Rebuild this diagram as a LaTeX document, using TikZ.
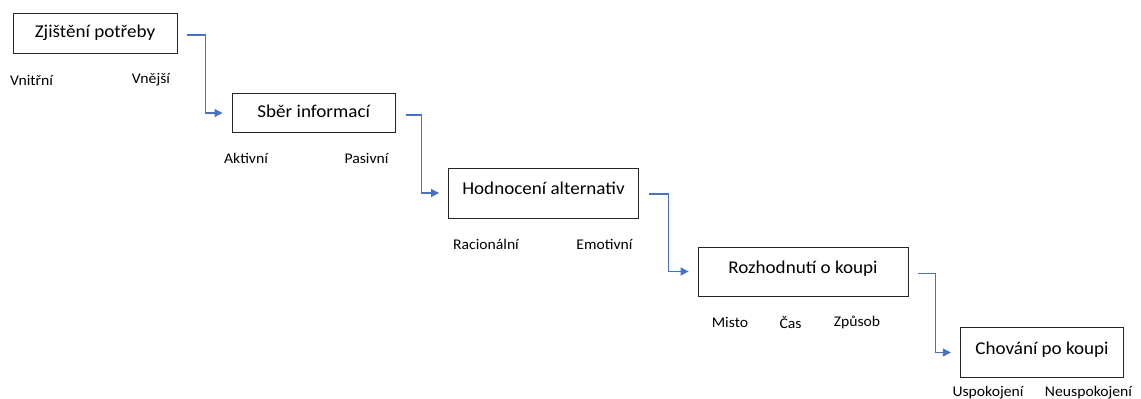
\documentclass[tikz,border=0pt]{standalone}
\usepackage{fontspec}
\setmainfont{Carlito}[FakeStretch=1.06]
\usetikzlibrary{arrows.meta}
\definecolor{flowblue}{HTML}{4472C4}
\definecolor{boxline}{HTML}{262626}
\begin{document}
\begin{tikzpicture}[x=1pt,y=-1pt,
  stage/.style={draw=boxline, line width=0.9pt, inner sep=0pt, fill=white,
    font=\fontsize{18}{21}\selectfont, text height=13pt, text depth=4pt},
  lifted/.style={text depth=10pt},
  sub/.style={inner sep=0pt, font=\fontsize{14.8}{17}\selectfont},
  conn/.style={draw=flowblue, line width=1.1pt, shorten <=10pt, shorten >=9pt,
    -{Triangle[length=8pt,width=8pt]}}]
\useasboundingbox (0,0) rectangle (1141,399);

% process stages
\node[stage, minimum width=164pt, minimum height=40pt] (s1) at (95,33) {Zjištění potřeby};
\node[stage, minimum width=163.5pt, minimum height=39.5pt] (s2) at (313.7,113) {Sběr informací};
\node[stage, lifted, minimum width=190pt, minimum height=50pt] (s3) at (543.5,193) {Hodnocení alternativ};
\node[stage, lifted, minimum width=210pt, minimum height=49pt] (s4) at (803,271.5) {Rozhodnutí o koupi};
\node[stage, lifted, minimum width=163.5pt, minimum height=50pt] (s5) at (1042,352.5) {Chování po koupi};

% sub-categories of each stage
\node[sub] (l11) at (31.5,80) {Vnitřní};
\node[sub] (l12) at (151,80) {Vnější};
\node[sub] (l21) at (246,158) {Aktivní};
\node[sub] (l22) at (366.5,158) {Pasivní};
\node[sub] (l31) at (486,244) {Racionální};
\node[sub] (l32) at (604.5,244) {Emotivní};
\node[sub] (l41) at (730,322) {Misto};
\node[sub] (l42) at (790.5,322) {Čas};
\node[sub] (l43) at (857,322) {Způsob};
\node[sub] (l51) at (988,393) {Uspokojení};
\node[sub] (l52) at (1088.5,393) {Neuspokojení};

% elbow connectors between stages
\draw[conn] ([yshift=-2pt]s1.east) -- ++(28,0) |- (s2.west);
\draw[conn] ([yshift=-2pt]s2.east) -- ++(26,0) |- (s3.west);
\draw[conn] ([yshift=-1pt]s3.east) -- ++(29.5,0) |- (s4.west);
\draw[conn] ([yshift=-2pt]s4.east) -- ++(27,0) |- (s5.west);
\end{tikzpicture}
\end{document}
